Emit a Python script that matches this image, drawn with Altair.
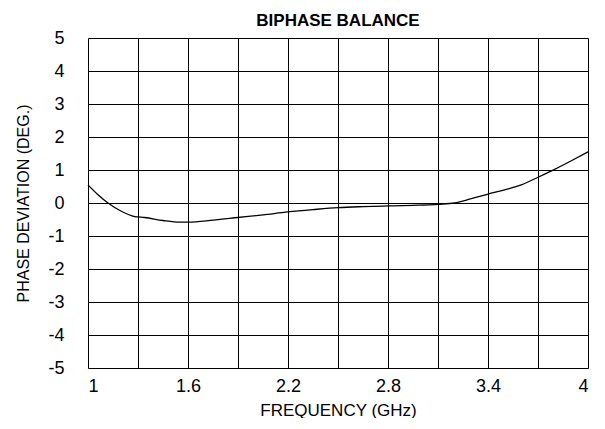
import altair as alt
import pandas as pd

freq = [1.0, 1.06, 1.12, 1.2, 1.28, 1.34, 1.45, 1.55, 1.6, 1.75, 1.9, 2.05, 2.2, 2.35, 2.5, 2.65,
        2.8, 2.95, 3.1, 3.2, 3.3, 3.4, 3.5, 3.6, 3.7, 3.8, 3.9, 4.0]
phase = [0.55, 0.25, 0.0, -0.25, -0.41, -0.44, -0.53, -0.58, -0.58, -0.52, -0.44, -0.36, -0.27, -0.2,
         -0.14, -0.11, -0.09, -0.07, -0.04, 0.0, 0.13, 0.27, 0.4, 0.55, 0.78, 1.02, 1.28, 1.55]
x_ticks = [1.0, 1.3, 1.6, 1.9, 2.2, 2.5, 2.8, 3.1, 3.4, 3.7, 4.0]
y_ticks = [-5, -4, -3, -2, -1, 0, 1, 2, 3, 4, 5]

df = pd.DataFrame({"f": freq, "p": phase})
FONT = "Liberation Sans"

chart = alt.Chart(df).mark_line(color="black", strokeWidth=1.3, interpolate="monotone").encode(
    x=alt.X("f:Q", scale=alt.Scale(domain=[1, 4], nice=False, zero=False),
            axis=alt.Axis(values=x_ticks, title="FREQUENCY (GHz)", format="~g",
                          labelExpr="round(datum.value*10) % 6 == 4 ? datum.label : ''",
                          ticks=False, labelPadding=9, titlePadding=7,
                          grid=True, gridColor="black", gridOpacity=1, gridWidth=1,
                          domain=False, labelFont=FONT, titleFont=FONT,
                          labelFontSize=18, titleFontSize=17, titleFontWeight="normal",
                          labelColor="black", titleColor="black")),
    y=alt.Y("p:Q", scale=alt.Scale(domain=[-5, 5], nice=False),
            axis=alt.Axis(values=y_ticks, title="PHASE DEVIATION (DEG.)",
                          labelExpr="toString(datum.value)",
                          ticks=False, labelPadding=24, titlePadding=16,
                          grid=True, gridColor="black", gridOpacity=1, gridWidth=1,
                          domain=False, labelFont=FONT, titleFont=FONT,
                          labelFontSize=18, titleFontSize=16, titleFontWeight="normal",
                          labelColor="black", titleColor="black")),
).properties(
    width=500, height=330,
    title=alt.TitleParams("BIPHASE BALANCE", font=FONT, fontSize=17, fontWeight="bold",
                          color="black", anchor="middle", offset=-1),
    autosize=alt.AutoSizeParams(type="none"),
    padding={"left": 80, "top": 30, "right": 9, "bottom": 50},
).configure_view(stroke="black", strokeWidth=1.2).configure(background="white")

chart.save("out.html", embed_options={"renderer": "svg", "actions": False})
